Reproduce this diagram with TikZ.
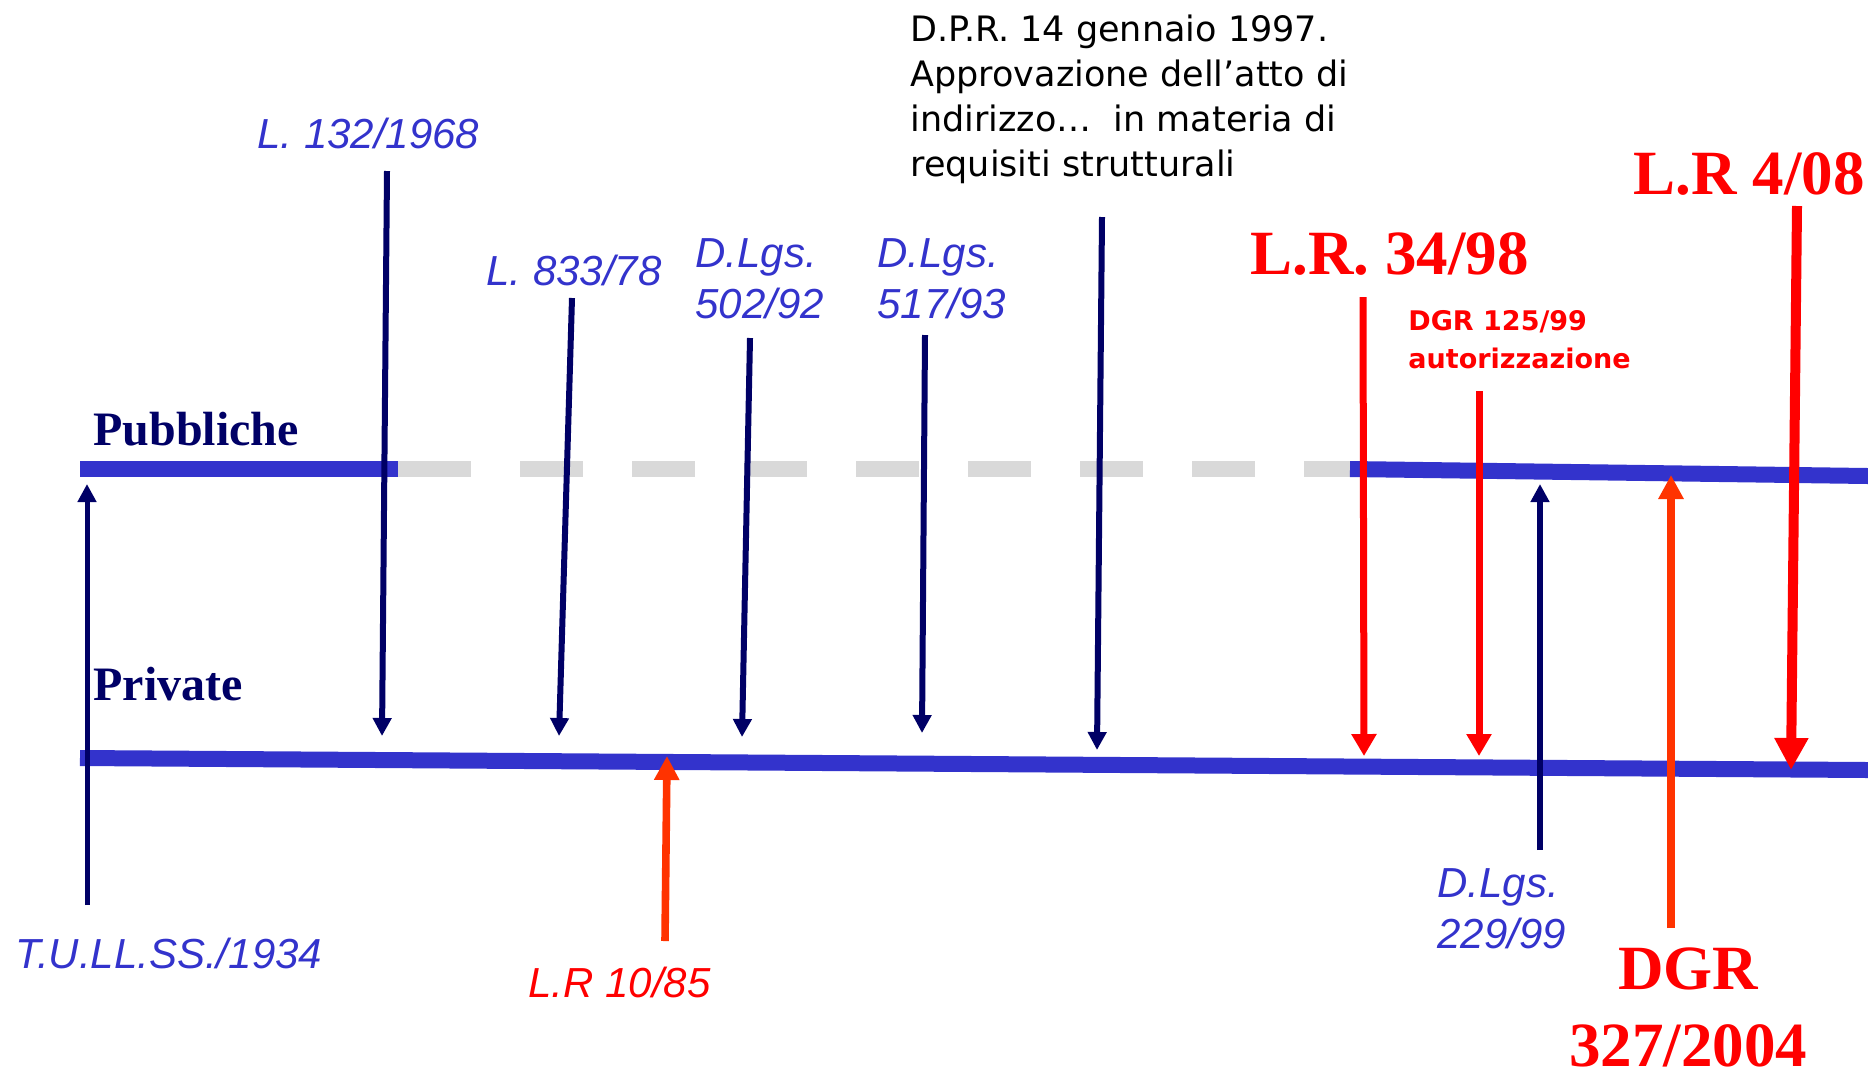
\documentclass[tikz,border=0pt]{standalone}
\usepackage{fontspec}
\setmainfont{Liberation Serif}
\newfontfamily\arialf{Liberation Sans}
\newfontfamily\comicf{DejaVu Sans}
\usetikzlibrary{arrows.meta}
\definecolor{lineblue}{HTML}{3333CC}
\definecolor{navyc}{HTML}{000066}
\definecolor{dashgray}{HTML}{D9D9D9}
\definecolor{lawred}{HTML}{FF0000}
\definecolor{orred}{HTML}{FF3300}
\begin{document}
\begin{tikzpicture}[x=0.5pt,y=-0.5pt,
  track/.style={line width=8pt, lineblue, line cap=butt},
  gaptrack/.style={line width=8pt, dashgray, line cap=butt},
  navyarrow/.style={navyc, line width=3pt, -{Triangle[width=9pt,length=9pt]}},
  redarrow/.style={lawred, line width=3.5pt, -{Triangle[width=12pt,length=11pt]}},
  bigredarrow/.style={lawred, line width=5pt, -{Triangle[width=16pt,length=16pt]}},
  orarrow/.style={orred, line width=3.8pt, -{Triangle[width=12pt,length=12pt]}},
  bluelbl/.style={inner sep=0pt, text=lineblue, font=\arialf\itshape\fontsize{21}{25.5}\selectfont, align=left},
  redlbl/.style={inner sep=0pt, text=lawred, font=\arialf\itshape\fontsize{21}{25.5}\selectfont},
  bigred/.style={inner sep=0pt, text=lawred, font=\bfseries\fontsize{31.5}{38.5}\selectfont},
  sectlbl/.style={inner sep=0pt, text=navyc, font=\bfseries\fontsize{24}{28}\selectfont},
  notelbl/.style={inner sep=0pt, text=black, font=\comicf\fontsize{17.5}{22.5}\selectfont, align=left},
  rednote/.style={inner sep=0pt, text=lawred, font=\comicf\bfseries\fontsize{13.5}{19}\selectfont, align=left}
]
\useasboundingbox (0,0) rectangle (1868,1073);

% tracks
\coordinate (pubA) at (80,469);
\coordinate (pubB) at (398,469);
\coordinate (pubG) at (408,469);
\coordinate (pubC) at (1350,469);
\coordinate (pubD) at (1868,476);
\coordinate (priA) at (80,758);
\coordinate (priB) at (1868,770);
\draw[gaptrack] (pubB) -- (pubG);
\draw[gaptrack, dash pattern=on 31.5pt off 24.5pt] (pubG) -- (pubC);
\draw[track] (pubA) -- (pubB);
\draw[track] (pubC) -- (pubD);
\draw[track] (priA) -- (priB);

% section labels
\node[sectlbl, anchor=base west] (pub) at (93,445) {Pubbliche};
\node[sectlbl, anchor=base west] (pri) at (93,700) {Private};

% labels (multi-line nodes: base = last line's baseline)
\node[bluelbl, anchor=base west] (l132) at (257,148) {L. 132/1968};
\node[bluelbl, anchor=base west] (l833) at (486,285) {L. 833/78};
\node[bluelbl, anchor=base west] (d502) at (695,318) {D.Lgs.\\502/92};
\node[bluelbl, anchor=base west] (d517) at (877,318) {D.Lgs.\\517/93};
\node[notelbl, anchor=base west] (dpr) at (910,176) {D.P.R. 14 gennaio 1997.\\Approvazione dell’atto di\\indirizzo…\ \ in materia di\\requisiti strutturali};
\node[bigred, anchor=base west] (lr34) at (1250,274) {L.R. 34/98};
\node[rednote, anchor=base west] (dgr125) at (1408,368) {DGR 125/99\\autorizzazione};
\node[bigred, anchor=base east] (lr408) at (1865,194) {L.R 4/08};
\node[bluelbl, anchor=base west] (d229) at (1437,948) {D.Lgs.\\229/99};
\node[bigred, anchor=base, align=center] (dgr327) at (1688,1066) {DGR\\327/2004};
\node[bluelbl, anchor=base west] (tulls) at (15,968) {T.U.LL.SS./1934};
\node[redlbl, anchor=base west] (lr1085) at (528,997) {L.R 10/85};

% arrow endpoints
\coordinate (a132s) at (387,171);  \coordinate (a132e) at (382,736);
\coordinate (a833s) at (572,298);  \coordinate (a833e) at (559,736);
\coordinate (a502s) at (750,338);  \coordinate (a502e) at (742,737);
\coordinate (a517s) at (925,335);  \coordinate (a517e) at (922,733);
\coordinate (adprs) at (1102,217); \coordinate (adpre) at (1097,750);
\coordinate (atuls) at (87,905);   \coordinate (atule) at (87,484);
\coordinate (a229s) at (1540,850); \coordinate (a229e) at (1540,484);
\coordinate (a34s) at (1363,297);  \coordinate (a34e) at (1364,756);
\coordinate (a125s) at (1479,391); \coordinate (a125e) at (1479,756);
\coordinate (a408s) at (1797,206); \coordinate (a408e) at (1791,770);
\coordinate (a1085s) at (665,941); \coordinate (a1085e) at (667,756);
\coordinate (a327s) at (1671,928); \coordinate (a327e) at (1671,475);

\draw[navyarrow] (a132s) -- (a132e);
\draw[navyarrow] (a833s) -- (a833e);
\draw[navyarrow] (a502s) -- (a502e);
\draw[navyarrow] (a517s) -- (a517e);
\draw[navyarrow] (adprs) -- (adpre);
\draw[navyarrow, line width=2.5pt] (atuls) -- (atule);
\draw[navyarrow] (a229s) -- (a229e);
\draw[redarrow] (a34s) -- (a34e);
\draw[redarrow] (a125s) -- (a125e);
\draw[bigredarrow] (a408s) -- (a408e);
\draw[orarrow] (a1085s) -- (a1085e);
\draw[orarrow] (a327s) -- (a327e);
\end{tikzpicture}
\end{document}
